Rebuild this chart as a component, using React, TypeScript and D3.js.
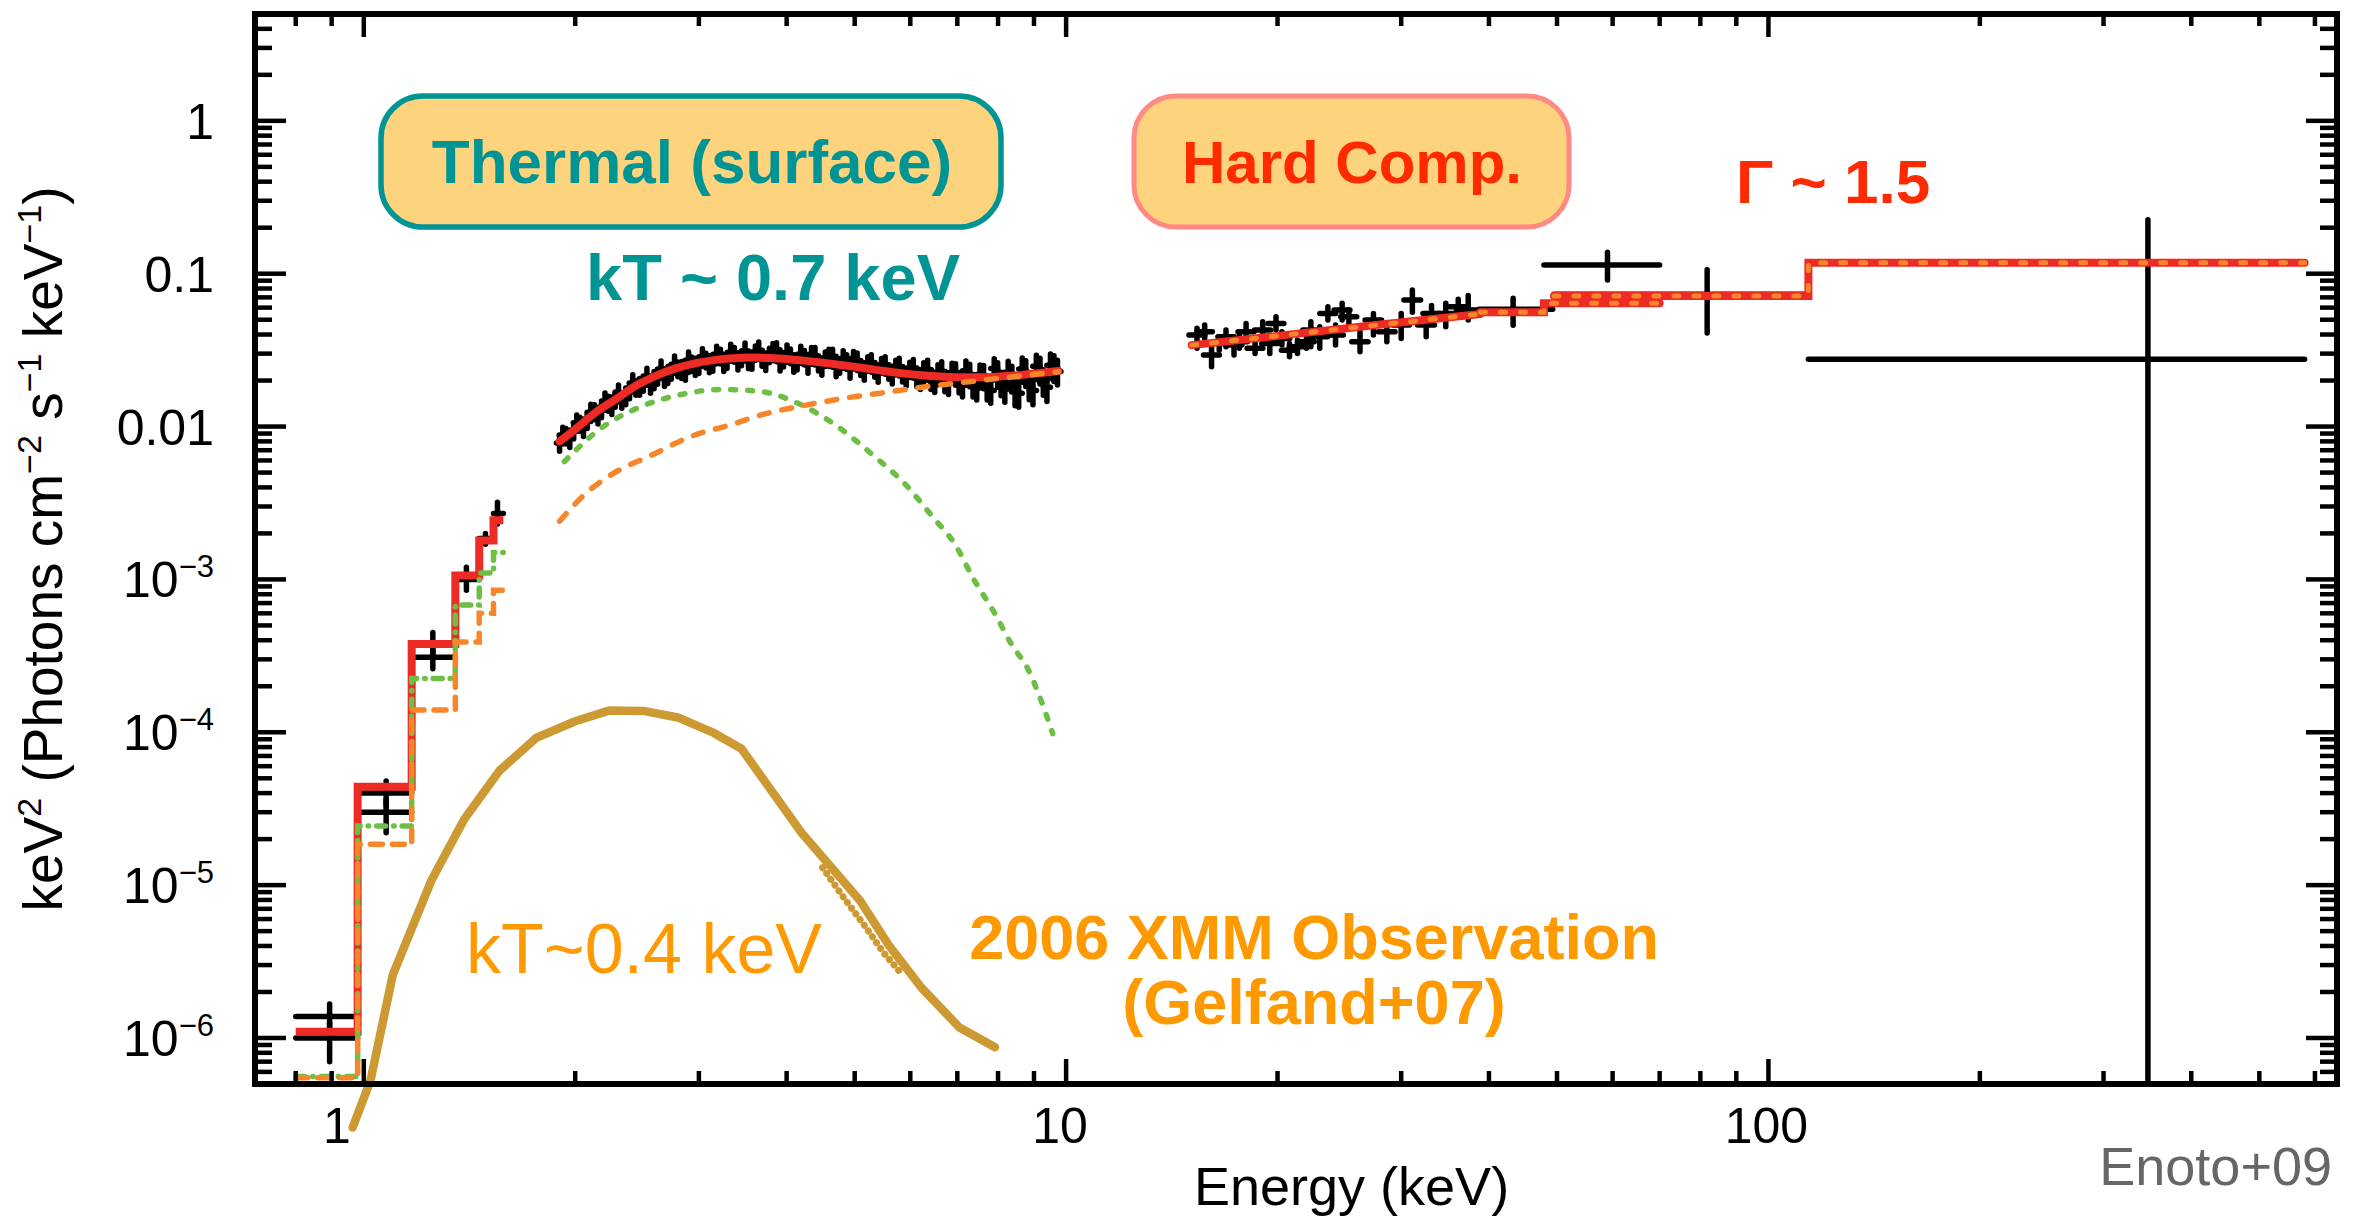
import React from "react";
import * as d3 from "d3";

const WIDTH = 2356;
const HEIGHT = 1220;
const PLOT = { left: 255, right: 2337, top: 14, bottom: 1084 };

const X_DOMAIN: [number, number] = [0.7, 645];
const Y_DOMAIN: [number, number] = [5e-7, 5];

const FONT = "'Liberation Sans', Arial, Helvetica, sans-serif";

// Axis ticks
const xMajorTicks = [1, 10, 100];
const xMajorLabels = ["1", "10", "100"];
const xLabelNudge = [-27, -6, -2];
const yMajorTicks = [1, 0.1, 0.01, 1e-3, 1e-4, 1e-5, 1e-6];
const yMajorLabels: [string, string][] = [
  ["1", ""],
  ["0.1", ""],
  ["0.01", ""],
  ["10", "\u22123"],
  ["10", "\u22124"],
  ["10", "\u22125"],
  ["10", "\u22126"],
];

// Low-energy spectrum (binned): [E, eLo, eHi, value, vLo, vHi]
const lowEData: number[][] = [
  [0.894, 0.8, 0.98, 1.38e-6, 1.1e-6, 1.67e-6],
  [0.894, 0.8, 0.98, 1.0e-6, 0.7e-6, 1.25e-6],
  [1.076, 0.98, 1.17, 4.0e-5, 3.3e-5, 4.8e-5],
  [1.076, 0.98, 1.17, 3.0e-5, 2.2e-5, 3.6e-5],
  [1.254, 1.17, 1.35, 3.8e-4, 3.2e-4, 4.5e-4],
  [1.254, 1.17, 1.35, 3.1e-4, 2.6e-4, 3.6e-4],
  [1.4, 1.35, 1.46, 1.0e-3, 8.5e-4, 1.2e-3],
  [1.49, 1.46, 1.53, 1.85e-3, 1.7e-3, 2.0e-3],
  [1.55, 1.53, 1.58, 2.7e-3, 2.3e-3, 3.2e-3],
];

// Low-energy model steps
const lowEEdges = [0.8, 0.98, 1.17, 1.35, 1.46, 1.53, 1.58];
const lowETotal = [1.1e-6, 4.4e-5, 3.78e-4, 1.06e-3, 1.8e-3, 2.44e-3];
const lowEThermal = [5.6e-7, 2.44e-5, 2.25e-4, 6.8e-4, 1.1e-3, 1.5e-3];
const lowEPowerLaw = [5.5e-7, 1.85e-5, 1.4e-4, 3.9e-4, 6.0e-4, 8.5e-4];

// XIS (FI) spectrum: [E, value, error]
const xisFiData: [number, number, number][] = [
  [1.9, 0.0078, 0.0009], [1.94, 0.0087, 0.001], [1.99, 0.0093, 0.001],
  [2.03, 0.0104, 0.0011], [2.08, 0.0109, 0.0012], [2.13, 0.0125, 0.0014],
  [2.18, 0.0128, 0.0014], [2.23, 0.0142, 0.0016], [2.28, 0.0151, 0.0017],
  [2.33, 0.0148, 0.0016], [2.39, 0.0171, 0.0019], [2.44, 0.018, 0.002],
  [2.5, 0.0191, 0.0021], [2.56, 0.0186, 0.0021], [2.62, 0.0212, 0.0023],
  [2.68, 0.0206, 0.0023], [2.74, 0.0229, 0.0025], [2.8, 0.0238, 0.0026],
  [2.87, 0.0226, 0.0025], [2.93, 0.0257, 0.0028], [3.0, 0.0249, 0.0027],
  [3.07, 0.0272, 0.003], [3.14, 0.0258, 0.0028], [3.22, 0.0289, 0.0032],
  [3.29, 0.027, 0.003], [3.37, 0.0296, 0.0033], [3.45, 0.0281, 0.0031],
  [3.53, 0.0268, 0.0029], [3.61, 0.0304, 0.0033], [3.69, 0.0279, 0.0031],
  [3.78, 0.0293, 0.0032], [3.87, 0.0318, 0.0035], [3.96, 0.0275, 0.003],
  [4.05, 0.029, 0.0032], [4.14, 0.0263, 0.0029], [4.24, 0.0284, 0.0031],
  [4.34, 0.0296, 0.0033], [4.44, 0.0259, 0.0028], [4.54, 0.0277, 0.003],
  [4.65, 0.0288, 0.0032], [4.76, 0.0251, 0.0028], [4.87, 0.0266, 0.0029],
  [4.98, 0.0279, 0.0031], [5.1, 0.0243, 0.0027], [5.22, 0.0258, 0.0028],
  [5.34, 0.0236, 0.0026], [5.46, 0.0251, 0.0028], [5.59, 0.0229, 0.0025],
  [5.72, 0.0245, 0.0027], [5.85, 0.0221, 0.0025], [5.99, 0.0236, 0.0027],
  [6.13, 0.0212, 0.003], [6.27, 0.0228, 0.0033], [6.42, 0.0205, 0.003],
  [6.57, 0.0221, 0.0033], [6.72, 0.0199, 0.003], [6.88, 0.0226, 0.0034],
  [7.04, 0.0196, 0.003], [7.2, 0.0232, 0.0036], [7.37, 0.0185, 0.0029],
  [7.54, 0.0219, 0.0034], [7.72, 0.0178, 0.0029], [7.9, 0.024, 0.0038],
  [8.08, 0.0193, 0.0034], [8.27, 0.0227, 0.004], [8.46, 0.0168, 0.0031],
  [8.66, 0.0238, 0.0043], [8.86, 0.0184, 0.0034], [9.07, 0.0248, 0.0045],
  [9.28, 0.0196, 0.0036], [9.5, 0.0252, 0.0046], [9.72, 0.0229, 0.0042],
];

// XIS (BI) spectrum: [E, value, error]
const xisBiData: [number, number, number][] = [
  [1.92, 0.0088, 0.0011], [1.965, 0.0084, 0.0011], [2.01, 0.0106, 0.0013],
  [2.055, 0.0099, 0.0013], [2.105, 0.0124, 0.0016], [2.155, 0.0119, 0.0015],
  [2.205, 0.0147, 0.0019], [2.255, 0.0138, 0.0018], [2.305, 0.0166, 0.0021],
  [2.36, 0.0159, 0.002], [2.415, 0.0193, 0.0025], [2.47, 0.0183, 0.0023],
  [2.53, 0.0214, 0.0027], [2.59, 0.0203, 0.0026], [2.65, 0.0238, 0.003],
  [2.71, 0.0219, 0.0028], [2.77, 0.0256, 0.0033], [2.835, 0.0236, 0.003],
  [2.9, 0.0272, 0.0035], [2.965, 0.0248, 0.0032], [3.035, 0.0286, 0.0037],
  [3.105, 0.0258, 0.0033], [3.18, 0.0297, 0.0038], [3.255, 0.0263, 0.0034],
  [3.33, 0.0306, 0.0039], [3.41, 0.0269, 0.0035], [3.49, 0.0312, 0.004],
  [3.57, 0.0272, 0.0035], [3.65, 0.0316, 0.0041], [3.735, 0.0268, 0.0035],
  [3.825, 0.0309, 0.004], [3.915, 0.0265, 0.0034], [4.005, 0.0302, 0.0039],
  [4.095, 0.0261, 0.0034], [4.19, 0.0297, 0.0038], [4.29, 0.0256, 0.0033],
  [4.39, 0.0291, 0.0038], [4.49, 0.0249, 0.0032], [4.595, 0.0284, 0.0037],
  [4.705, 0.0244, 0.0032], [4.815, 0.0277, 0.0036], [4.925, 0.0238, 0.0031],
  [5.04, 0.0268, 0.0035], [5.16, 0.0231, 0.003], [5.28, 0.0261, 0.0034],
  [5.4, 0.0224, 0.0029], [5.525, 0.0253, 0.0033], [5.655, 0.0219, 0.0029],
  [5.785, 0.0247, 0.0033], [5.92, 0.0213, 0.0029], [6.06, 0.0241, 0.0034],
  [6.2, 0.0205, 0.003], [6.35, 0.0236, 0.0035], [6.5, 0.0197, 0.003],
  [6.65, 0.0229, 0.0036], [6.8, 0.0192, 0.003], [6.96, 0.0222, 0.0036],
  [7.12, 0.0186, 0.003], [7.29, 0.0219, 0.0037], [7.46, 0.0179, 0.003],
  [7.63, 0.0214, 0.0037], [7.81, 0.0172, 0.003], [7.99, 0.0221, 0.004],
  [8.18, 0.0176, 0.0032], [8.37, 0.0209, 0.0039], [8.56, 0.0165, 0.0031],
  [8.76, 0.0226, 0.0043], [8.97, 0.0172, 0.0033], [9.18, 0.0235, 0.0045],
  [9.39, 0.0181, 0.0035], [9.61, 0.0244, 0.0047],
];

// XIS-band models
const xisTotal: [number, number][] = [
  [1.9, 0.008], [2.0, 0.0096], [2.13, 0.0122], [2.28, 0.015], [2.45, 0.0187],
  [2.6, 0.0214], [2.78, 0.024], [2.95, 0.0258], [3.15, 0.0272], [3.35, 0.028],
  [3.57, 0.0283], [3.8, 0.0281], [4.05, 0.0275], [4.3, 0.0268], [4.59, 0.0259],
  [4.9, 0.0249], [5.2, 0.024], [5.5, 0.0231], [5.9, 0.0222], [6.3, 0.0216],
  [6.69, 0.0212], [7.1, 0.021], [7.58, 0.021], [8.1, 0.0213], [8.6, 0.0217],
  [9.2, 0.0224], [9.75, 0.0231],
];
const xisThermal: [number, number][] = [
  [1.93, 5.9e-3], [2.16, 9.5e-3], [2.51, 0.0138], [2.85, 0.0163], [3.23, 0.0175],
  [3.66, 0.017], [4.15, 0.0142], [4.7, 0.0102], [5.33, 6.4e-3], [5.9, 4.2e-3],
  [6.44, 2.6e-3], [6.95, 1.69e-3], [7.39, 1.0e-3], [7.88, 6.2e-4], [8.38, 3.7e-4],
  [8.82, 2.6e-4], [9.16, 1.73e-4], [9.57, 9.8e-5],
];
const xisPowerLaw: [number, number][] = [
  [1.9, 2.4e-3], [2.05, 3.5e-3], [2.27, 4.96e-3], [2.57, 6.5e-3], [2.92, 8.6e-3],
  [3.31, 0.0102], [3.75, 0.0122], [4.26, 0.0138], [4.82, 0.0153], [5.47, 0.0166],
  [6.2, 0.018], [7.03, 0.0193], [7.97, 0.0206], [9.04, 0.022], [9.75, 0.0228],
];

// PIN spectrum: [E, halfWidth, value, vLo, vHi]
const pinData: number[][] = [
  [15.36, 0.4, 0.0397, 0.0325, 0.0439], [15.75, 0.4, 0.0417, 0.0377, 0.0461],
  [16.11, 0.42, 0.0294, 0.0246, 0.0333], [16.52, 0.43, 0.035, 0.0316, 0.0387],
  [16.89, 0.44, 0.0387, 0.0333, 0.0428], [17.34, 0.45, 0.0341, 0.0294, 0.0387],
  [17.65, 0.46, 0.0359, 0.0325, 0.0397], [18.04, 0.47, 0.0417, 0.0368, 0.0473],
  [18.58, 0.48, 0.0325, 0.0301, 0.0368], [19.05, 0.5, 0.0428, 0.0387, 0.0485],
  [19.5, 0.51, 0.035, 0.0301, 0.0387], [19.9, 0.52, 0.0473, 0.0428, 0.0523],
  [20.29, 0.53, 0.0377, 0.0341, 0.0417], [20.8, 0.54, 0.0316, 0.0286, 0.035],
  [21.35, 0.56, 0.0333, 0.0301, 0.0368], [21.99, 0.57, 0.0359, 0.0325, 0.0397],
  [22.31, 0.58, 0.0428, 0.0333, 0.0485], [22.97, 0.6, 0.0387, 0.0325, 0.045],
  [23.59, 0.61, 0.055, 0.0497, 0.0608], [24.19, 0.63, 0.0397, 0.0341, 0.0461],
  [24.72, 0.64, 0.0578, 0.0497, 0.064], [25.27, 0.66, 0.0523, 0.0461, 0.0578],
  [26.21, 0.7, 0.0359, 0.0309, 0.0417], [27.39, 0.74, 0.0497, 0.0397, 0.055],
  [28.62, 0.78, 0.0417, 0.0359, 0.0473], [30.0, 0.82, 0.0461, 0.0377, 0.055],
  [31.12, 0.85, 0.0673, 0.056, 0.0782], [32.56, 0.9, 0.0461, 0.0387, 0.055],
  [33.14, 0.92, 0.055, 0.0485, 0.062], [34.72, 0.96, 0.055, 0.045, 0.064],
  [36.17, 1.0, 0.0608, 0.054, 0.068], [37.37, 1.4, 0.0578, 0.0497, 0.072],
];

// Hard X-ray bins: [E, eLo, eHi, value, vLo, vHi]
const hardData: number[][] = [
  [43.3, 38.7, 49.3, 0.0585, 0.046, 0.069],
  [59.0, 47.9, 70.0, 0.114, 0.091, 0.138],
  [81.8, 49.5, 114, 0.0735, 0.041, 0.106],
  [347, 114, 580, 0.0276, 1e-8, 0.225],
];

// Hard-band models
const pinModel: [number, number][] = [[15.1, 0.0341], [20, 0.0392], [27, 0.0456], [38.9, 0.0545]];
const hardStepEdgesA = [38.9, 47.9, 70];
const hardStepValuesA = [0.056, 0.064];
const hardStepEdgesB = [49.5, 114, 580];
const hardStepValuesB = [0.0715, 0.118];

// 2006 XMM blackbody (kT ~ 0.4 keV)
const xmmBlackbody: [number, number][] = [
  [0.964, 2.6e-7], [1.022, 5.25e-7], [1.1, 2.6e-6], [1.25, 1.09e-5], [1.39, 2.7e-5],
  [1.56, 5.6e-5], [1.76, 9.2e-5], [2.0, 1.18e-4], [2.24, 1.39e-4], [2.5, 1.38e-4],
  [2.8, 1.25e-4], [3.15, 9.9e-5], [3.45, 7.8e-5], [4.2, 2.2e-5], [5.09, 7.9e-6],
  [5.6, 4.0e-6], [6.22, 2.14e-6], [7.05, 1.17e-6], [7.92, 8.7e-7],
];
const xmmBlackbodyDots: [number, number][] = [
  [4.5, 1.3e-5], [4.85, 8.0e-6], [5.17, 5.4e-6], [5.5, 3.6e-6], [5.8, 2.7e-6],
];

const COLORS = {
  total: "#EE2A24",
  thermal: "#6DBE45",
  power: "#F7862A",
  gold: "#CC9933",
  teal: "#009494",
  boxFill: "#FDD37D",
  boxRed: "#FF8A84",
  hot: "#FF2A00",
  orangeText: "#FF9900",
};

export default function App() {
  const x = d3.scaleLog().domain(X_DOMAIN).range([PLOT.left, PLOT.right]);
  const y = d3.scaleLog().domain(Y_DOMAIN).range([PLOT.bottom, PLOT.top]);

  const linear = d3
    .line<[number, number]>()
    .x((d) => x(d[0]))
    .y((d) => y(d[1]));
  const smooth = d3
    .line<[number, number]>()
    .x((d) => x(d[0]))
    .y((d) => y(d[1]))
    .curve(d3.curveMonotoneX);
  const stepGen = d3
    .line<[number, number]>()
    .x((d) => x(d[0]))
    .y((d) => y(d[1]))
    .curve(d3.curveStepAfter);
  const steps = (edges: number[], values: number[]) => {
    const pts: [number, number][] = values.map((v, i) => [edges[i], v]);
    pts.push([edges[edges.length - 1], values[values.length - 1]]);
    return stepGen(pts) || "";
  };

  // minor tick values
  const xMinor: number[] = [];
  const yMinor: number[] = [];
  for (let d = -8; d <= 3; d++) {
    for (let m = 2; m <= 9; m++) {
      const v = m * Math.pow(10, d);
      if (v > X_DOMAIN[0] && v < X_DOMAIN[1]) xMinor.push(v);
      if (v > Y_DOMAIN[0] && v < Y_DOMAIN[1]) yMinor.push(v);
    }
  }

  // bin edges from neighbouring energies
  const binEdges = (data: [number, number, number][]) =>
    data.map((d, i) => {
      const prev = i > 0 ? data[i - 1][0] : (d[0] * d[0]) / data[1][0];
      const next = i < data.length - 1 ? data[i + 1][0] : (d[0] * d[0]) / data[i - 1][0];
      return [Math.sqrt(prev * d[0]), Math.sqrt(d[0] * next)];
    });
  const xisSets = [xisFiData, xisBiData].map((data) => ({ data, edges: binEdges(data) }));

  const tickStroke = 4.5;
  const cross = 5.5;
  const plotMidY = (PLOT.top + PLOT.bottom) / 2;

  return (
    <div style={{ position: "absolute", left: 0, top: 0, background: "#fff" }}>
      <svg width={WIDTH} height={HEIGHT} viewBox={`0 0 ${WIDTH} ${HEIGHT}`} style={{ display: "block" }}>
        <defs>
          <clipPath id="plotClip">
            <rect x={PLOT.left} y={PLOT.top} width={PLOT.right - PLOT.left} height={PLOT.bottom - PLOT.top} />
          </clipPath>
        </defs>
        <rect x={0} y={0} width={WIDTH} height={HEIGHT} fill="#fff" />

        {/* annotation boxes */}
        <rect x={381} y={96} width={620} height={131} rx={42} ry={42} fill={COLORS.boxFill} stroke={COLORS.teal} strokeWidth={5.5} />
        <text x={692} y={183} textAnchor="middle" fontFamily={FONT} fontWeight="bold" fontSize={62} fill={COLORS.teal}>
          Thermal (surface)
        </text>
        <rect x={1134} y={96} width={435} height={131} rx={42} ry={42} fill={COLORS.boxFill} stroke={COLORS.boxRed} strokeWidth={5} />
        <text x={1352} y={183} textAnchor="middle" fontFamily={FONT} fontWeight="bold" fontSize={60} fill={COLORS.hot}>
          Hard Comp.
        </text>
        <text x={773} y={300} textAnchor="middle" fontFamily={FONT} fontWeight="bold" fontSize={65} fill={COLORS.teal}>
          kT ~ 0.7 keV
        </text>
        <text x={1736} y={203} fontFamily={FONT} fontWeight="bold" fontSize={62} fill={COLORS.hot}>
          Γ ~ 1.5
        </text>

        {/* data and models */}
        <g clipPath="url(#plotClip)" strokeLinecap="round">
          {/* black data crosses */}
          <g stroke="#000" strokeWidth={cross} fill="none">
            {lowEData.map((d, i) => (
              <g key={`l${i}`}>
                <line x1={x(d[1])} x2={x(d[2])} y1={y(d[3])} y2={y(d[3])} />
                <line x1={x(d[0])} x2={x(d[0])} y1={y(d[4])} y2={y(d[5])} />
              </g>
            ))}
            {xisSets.map((set, s) =>
              set.data.map((d, i) => (
                <g key={`x${s}-${i}`}>
                  <line x1={x(set.edges[i][0])} x2={x(set.edges[i][1])} y1={y(d[1])} y2={y(d[1])} />
                  <line x1={x(d[0])} x2={x(d[0])} y1={y(d[1] - d[2])} y2={y(d[1] + d[2])} />
                </g>
              ))
            )}
            {pinData.map((d, i) => (
              <g key={`p${i}`}>
                <line x1={x(d[0] - d[1])} x2={x(d[0] + d[1])} y1={y(d[2])} y2={y(d[2])} />
                <line x1={x(d[0])} x2={x(d[0])} y1={y(d[3])} y2={y(d[4])} />
              </g>
            ))}
            {hardData.map((d, i) => (
              <g key={`h${i}`}>
                <line x1={x(d[1])} x2={x(d[2])} y1={y(d[3])} y2={y(d[3])} />
                <line x1={x(d[0])} x2={x(d[0])} y1={y(d[4])} y2={y(d[5])} />
              </g>
            ))}
          </g>

          {/* total model */}
          <g stroke={COLORS.total} strokeWidth={8} fill="none" strokeLinejoin="round">
            <path d={steps(lowEEdges, lowETotal)} strokeLinejoin="miter" strokeLinecap="butt" />
            <path d={smooth(xisTotal) || ""} />
            <path d={linear(pinModel) || ""} />
            <path d={steps(hardStepEdgesA, hardStepValuesA)} strokeLinejoin="miter" />
            <path d={steps(hardStepEdgesB, hardStepValuesB)} strokeLinejoin="miter" />
          </g>

          {/* thermal component */}
          <g stroke={COLORS.thermal} strokeWidth={5.5} fill="none">
            <path d={steps(lowEEdges, lowEThermal)} strokeDasharray="9 8 0.5 8" />
            <path d={smooth(xisThermal) || ""} strokeDasharray="5 12" />
          </g>

          {/* power-law component */}
          <g stroke={COLORS.power} strokeWidth={5.5} fill="none">
            <path d={steps(lowEEdges, lowEPowerLaw)} strokeDasharray="12 10" />
            <path d={smooth(xisPowerLaw) || ""} strokeDasharray="10 13" />
          </g>
          <g stroke={COLORS.power} strokeWidth={5} fill="none" strokeDasharray="5 15">
            <path d={linear(pinModel) || ""} />
            <path d={steps(hardStepEdgesA, hardStepValuesA)} />
            <path d={steps(hardStepEdgesB, hardStepValuesB)} />
          </g>
        </g>

        {/* XMM blackbody */}
        <path d={linear(xmmBlackbody) || ""} fill="none" stroke={COLORS.gold} strokeWidth={8.5} strokeLinejoin="round" strokeLinecap="round" />
        <path d={linear(xmmBlackbodyDots) || ""} fill="none" stroke={COLORS.gold} strokeWidth={7} strokeDasharray="0.1 7" strokeLinecap="round" />

        {/* frame */}
        <rect x={PLOT.left} y={PLOT.top} width={PLOT.right - PLOT.left} height={PLOT.bottom - PLOT.top} fill="none" stroke="#000" strokeWidth={6} />

        {/* ticks */}
        <g stroke="#000" strokeWidth={tickStroke}>
          {xMajorTicks.map((v) => (
            <g key={`xM${v}`}>
              <line x1={x(v)} x2={x(v)} y1={PLOT.bottom} y2={PLOT.bottom - 25} />
              <line x1={x(v)} x2={x(v)} y1={PLOT.top} y2={PLOT.top + 23} />
            </g>
          ))}
          {xMinor.map((v) => (
            <g key={`xm${v}`}>
              <line x1={x(v)} x2={x(v)} y1={PLOT.bottom} y2={PLOT.bottom - 13} />
              <line x1={x(v)} x2={x(v)} y1={PLOT.top} y2={PLOT.top + 12} />
            </g>
          ))}
          {yMajorTicks.map((v) => (
            <g key={`yM${v}`}>
              <line x1={PLOT.left} x2={PLOT.left + 31} y1={y(v)} y2={y(v)} />
              <line x1={PLOT.right} x2={PLOT.right - 31} y1={y(v)} y2={y(v)} />
            </g>
          ))}
          {yMinor.map((v) => (
            <g key={`ym${v}`}>
              <line x1={PLOT.left} x2={PLOT.left + 17} y1={y(v)} y2={y(v)} />
              <line x1={PLOT.right} x2={PLOT.right - 17} y1={y(v)} y2={y(v)} />
            </g>
          ))}
        </g>

        {/* tick labels */}
        <g fontFamily={FONT} fontSize={50} fill="#000">
          {xMajorTicks.map((v, i) => (
            <text key={`xl${v}`} x={x(v) + xLabelNudge[i]} y={1143} textAnchor="middle">
              {xMajorLabels[i]}
            </text>
          ))}
          {yMajorTicks.map((v, i) => (
            <text key={`yl${v}`} x={214} y={y(v) + 18} textAnchor="end">
              {yMajorLabels[i][0]}
              {yMajorLabels[i][1] && (
                <tspan fontSize={31} dy={-20}>
                  {yMajorLabels[i][1]}
                </tspan>
              )}
            </text>
          ))}
        </g>

        {/* axis titles */}
        <text x={1194} y={1205} fontFamily={FONT} fontSize={54} fill="#000">
          Energy (keV)
        </text>
        <text
          transform={`translate(62, ${plotMidY}) rotate(-90)`}
          textAnchor="middle"
          fontFamily={FONT}
          fontSize={55}
          fill="#000"
        >
          keV
          <tspan fontSize={34} dy={-21}>2</tspan>
          <tspan dy={21}> (Photons cm</tspan>
          <tspan fontSize={34} dy={-21}>{"\u22122"}</tspan>
          <tspan dy={21}> s</tspan>
          <tspan fontSize={34} dy={-21}>{"\u22121"}</tspan>
          <tspan dy={21}> keV</tspan>
          <tspan fontSize={34} dy={-21}>{"\u22121"}</tspan>
          <tspan dy={21}>)</tspan>
        </text>

        {/* XMM annotations */}
        <text x={466} y={973} fontFamily={FONT} fontSize={70} fill={COLORS.orangeText}>
          kT~0.4 keV
        </text>
        <text x={1314} y={959} textAnchor="middle" fontFamily={FONT} fontWeight="bold" fontSize={63} fill={COLORS.orangeText}>
          2006 XMM Observation
        </text>
        <text x={1314} y={1024} textAnchor="middle" fontFamily={FONT} fontWeight="bold" fontSize={63} fill={COLORS.orangeText}>
          (Gelfand+07)
        </text>

        <text x={2332} y={1185} textAnchor="end" fontFamily={FONT} fontSize={54} fill="#666">
          Enoto+09
        </text>
      </svg>
    </div>
  );
}
